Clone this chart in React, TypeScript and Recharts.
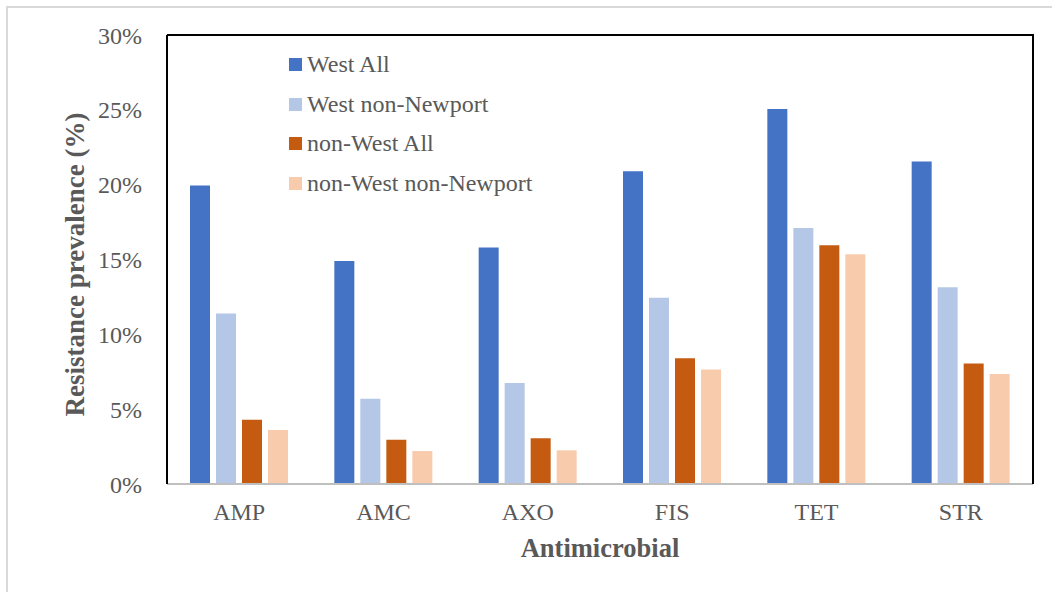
import * as React from 'react';
import { BarChart, Bar, XAxis, YAxis, ReferenceLine } from 'recharts';

const categories = ['AMP', 'AMC', 'AXO', 'FIS', 'TET', 'STR'];
const westAll = [19.95, 14.9, 15.8, 20.9, 25.05, 21.55];
const westNonNewport = [11.4, 5.7, 6.75, 12.45, 17.1, 13.15];
const nonWestAll = [4.3, 2.95, 3.05, 8.4, 15.95, 8.05];
const nonWestNonNewport = [3.6, 2.2, 2.25, 7.65, 15.35, 7.35];
const yTicks = [0, 5, 10, 15, 20, 25, 30];

const seriesNames = ['West All', 'West non-Newport', 'non-West All', 'non-West non-Newport'];
const seriesColors = ['#4472C4', '#B4C7E7', '#C55A11', '#F8CBAD'];
const seriesValues = [westAll, westNonNewport, nonWestAll, nonWestNonNewport];

const data = categories.map((name, i) => {
    const row: Record<string, string | number> = { name };
    seriesNames.forEach((s, j) => {
        row[s] = seriesValues[j][i];
    });
    return row;
});

const FONT = '"Liberation Serif", "Times New Roman", serif';
const TEXT = '#595959';

// legend sits inside the plot box, top-left
const LegendBox = () => (
    <div style={{ position: 'absolute', left: 289, top: 45, fontFamily: FONT, color: TEXT, fontSize: 24 }}>
        {seriesNames.map((s, i) => (
            <div key={s} style={{ display: 'flex', alignItems: 'center', height: 39.5 }}>
                <span style={{ width: 13, height: 13, background: seriesColors[i], marginRight: 5 }} />
                <span>{s}</span>
            </div>
        ))}
    </div>
);

const YLabel = (props: any) => {
    const vb = props.viewBox;
    const cx = 75;
    const cy = vb.y + vb.height / 2 + 5;
    return (
        <text
            x={cx}
            y={cy}
            transform={`rotate(-90, ${cx}, ${cy})`}
            textAnchor="middle"
            dominantBaseline="central"
            fill={TEXT}
            fontFamily={FONT}
            fontSize={27}
            fontWeight="bold"
        >
            Resistance prevalence (%)
        </text>
    );
};

const XLabel = (props: any) => {
    const vb = props.viewBox;
    return (
        <text
            x={vb.x + vb.width / 2}
            y={548}
            textAnchor="middle"
            dominantBaseline="central"
            fill={TEXT}
            fontFamily={FONT}
            fontSize={26.5}
            fontWeight="bold"
        >
            Antimicrobial
        </text>
    );
};

export default function App() {
    return (
        <div style={{ position: 'absolute', left: 0, top: 0, width: 1052, height: 592, overflow: 'hidden', background: '#fff' }}>
            <div style={{ position: 'absolute', left: 6, top: 6, width: 1100, height: 700, border: '2px solid #d9d9d9' }} />
            <BarChart
                width={1052}
                height={592}
                data={data}
                margin={{ top: 35, right: 19, left: 0, bottom: 0 }}
                barSize={20}
                barGap={6}
                style={{ position: 'absolute', left: 0, top: 0 }}
            >
                <XAxis
                    dataKey="name"
                    height={108}
                    axisLine={{ stroke: '#bfbfbf', strokeWidth: 2 }}
                    tickLine={false}
                    tickMargin={13}
                    tick={{ fill: TEXT, fontSize: 24, fontFamily: FONT }}
                    label={<XLabel />}
                />
                <YAxis
                    width={167}
                    domain={[0, 30]}
                    ticks={yTicks}
                    interval={0}
                    tickFormatter={(v: number) => `${v}%`}
                    axisLine={{ stroke: '#000', strokeWidth: 2 }}
                    tickLine={false}
                    tickMargin={19}
                    tick={{ fill: TEXT, fontSize: 24, fontFamily: FONT }}
                    label={<YLabel />}
                />
                <ReferenceLine y={30} stroke="#000" strokeWidth={2} />
                {seriesNames.map((s, i) => (
                    <Bar key={s} dataKey={s} fill={seriesColors[i]} isAnimationActive={false} />
                ))}
            </BarChart>
            {/* right edge of the plot frame */}
            <div style={{ position: 'absolute', left: 1032, top: 34, width: 2, height: 450, background: '#000' }} />
            <LegendBox />
        </div>
    );
}
